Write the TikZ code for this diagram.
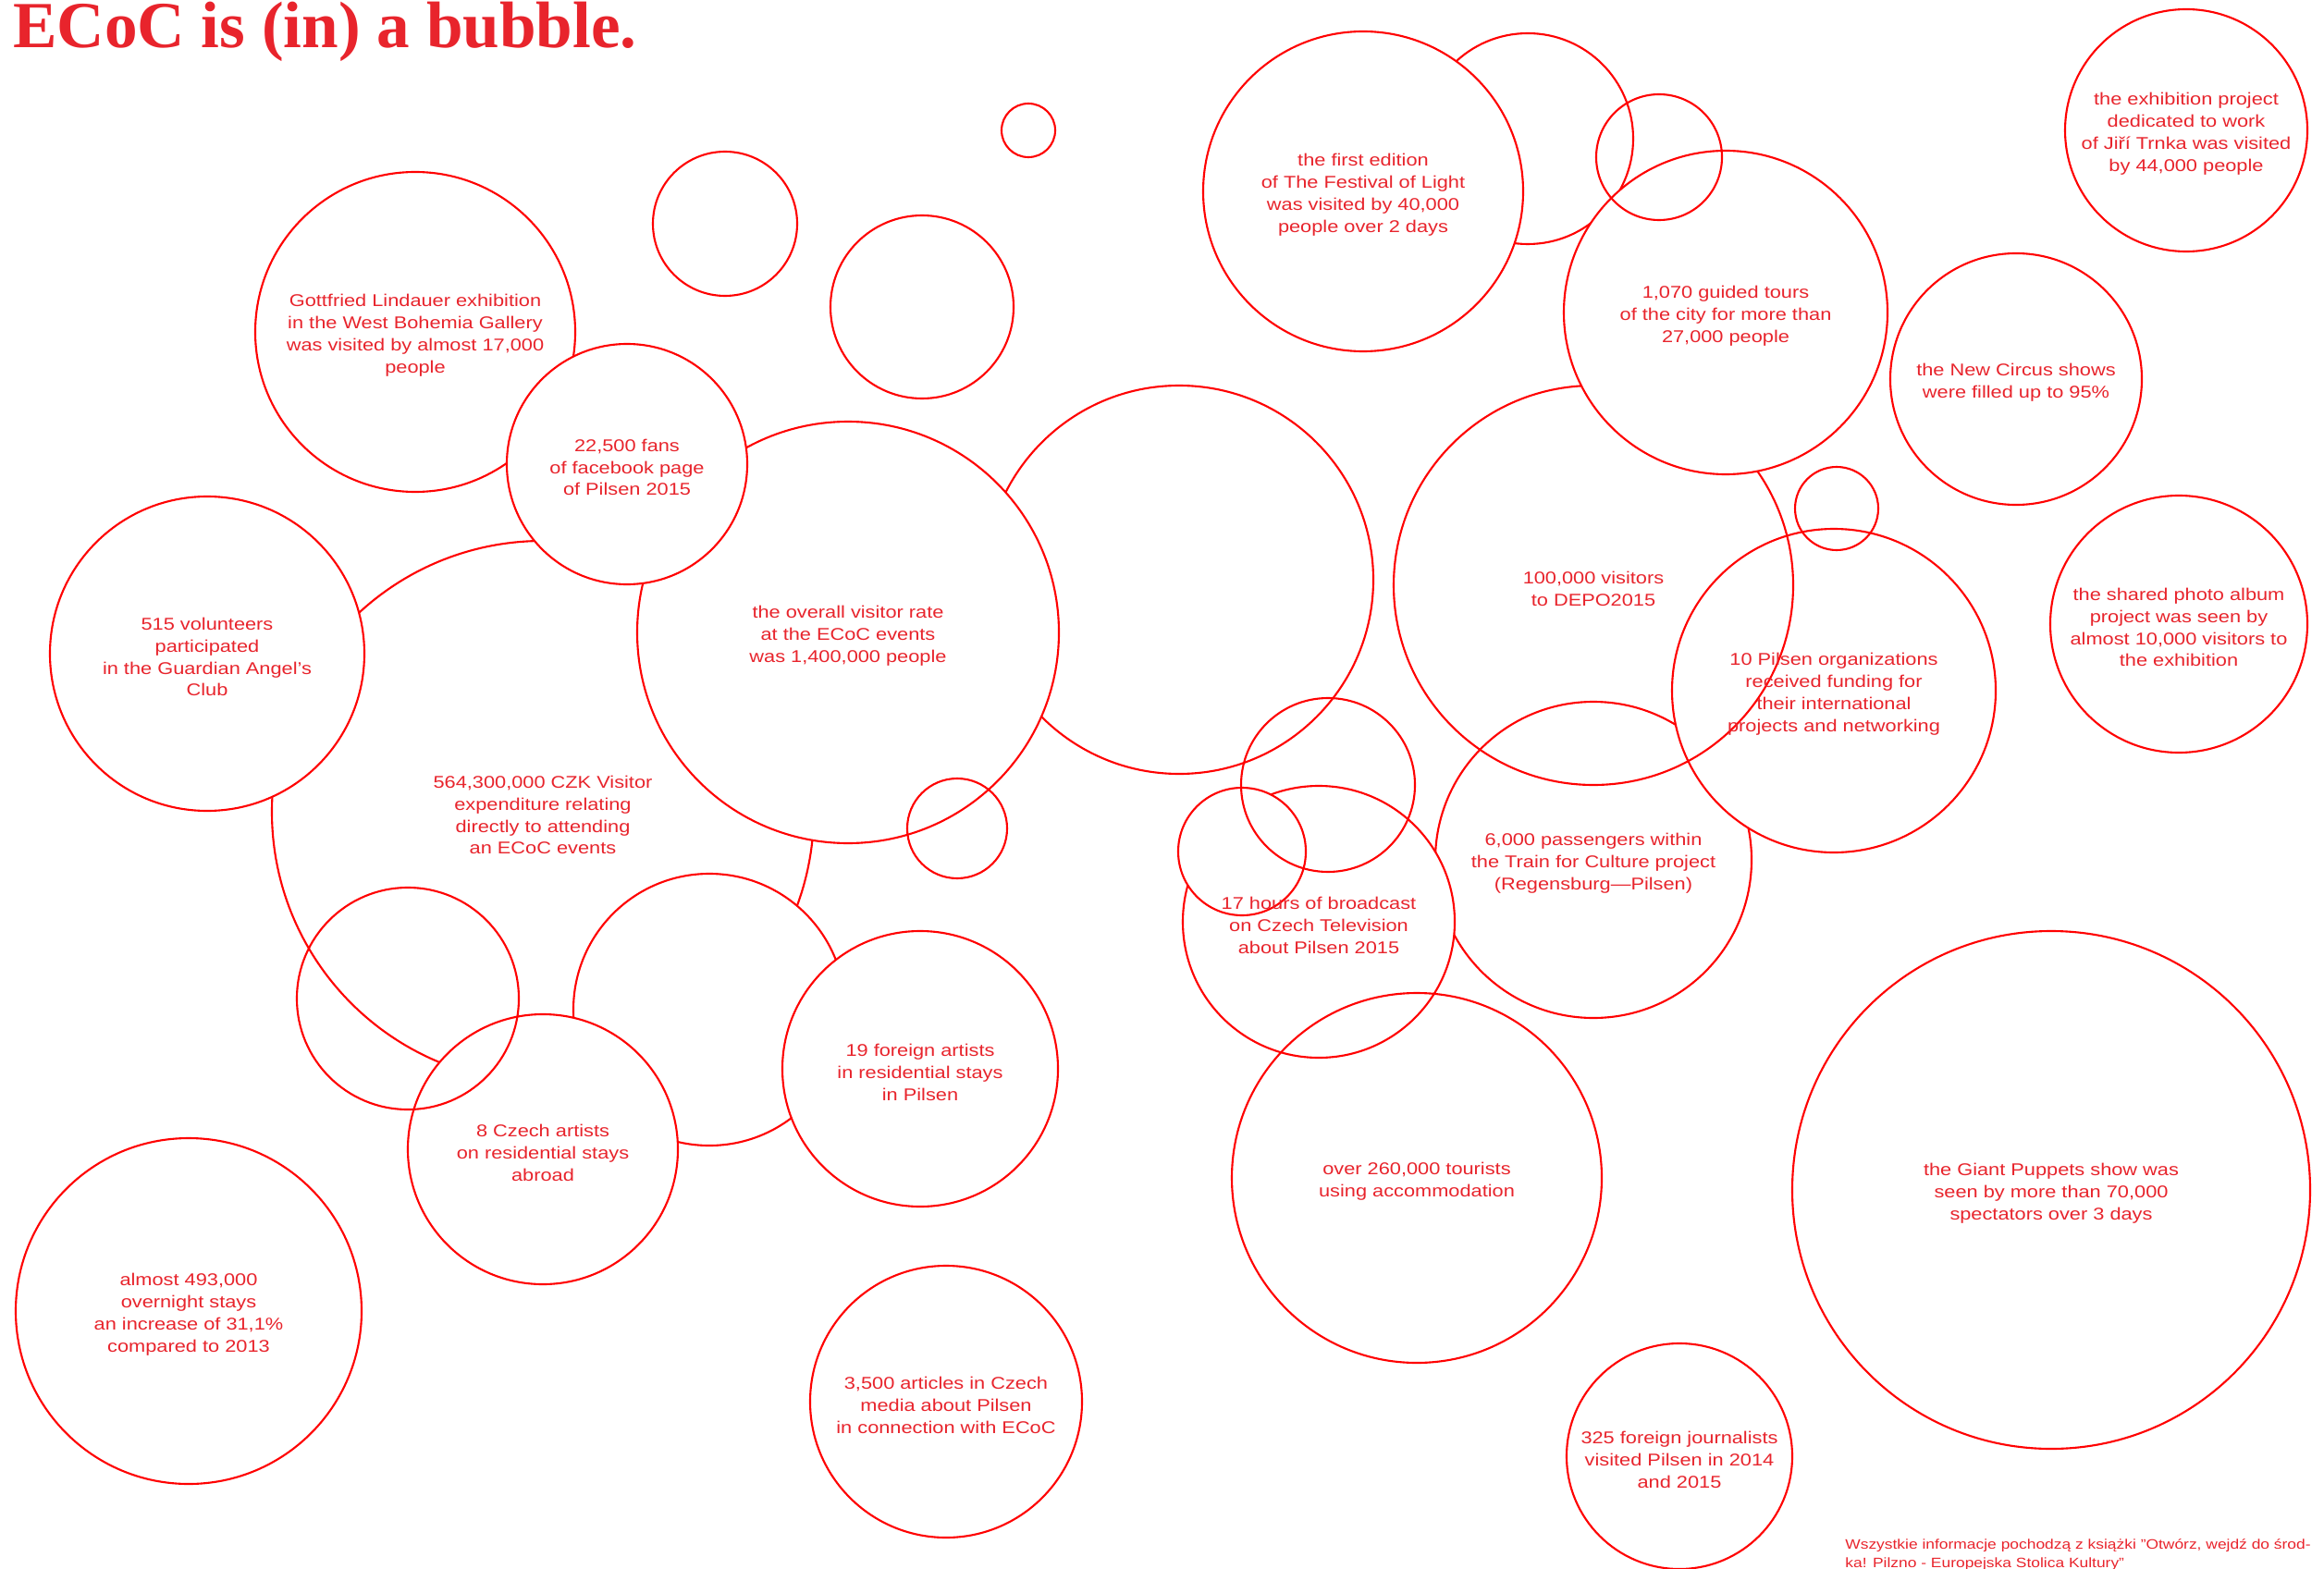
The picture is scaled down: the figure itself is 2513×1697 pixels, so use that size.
\documentclass[tikz,border=0pt]{standalone}
\usepackage{fontspec}
\setmainfont{Liberation Sans}[FakeStretch=1.18]
\newfontfamily\titlefont{Liberation Serif}
\usepackage{tikz}
\definecolor{ecocline}{RGB}{255,0,0}
\definecolor{ecoctext}{RGB}{232,36,44}

\begin{document}
\begin{tikzpicture}[x=0.2mm, y=-0.2mm,
  bubble/.style={circle, draw=ecocline, line width=1.2pt, fill=white, inner sep=0pt, minimum size=#1*0.4mm},
  ring/.style={bubble=#1, fill=none},
  fact/.style={text=ecoctext, align=center, inner sep=0pt, yshift=-0.7mm, font=\fontsize{10.5}{13.6}\selectfont},
  source/.style={text=ecoctext, align=left, inner sep=0pt, font=\fontsize{8.4}{11.6}\selectfont}
]
\useasboundingbox (0,0) rectangle (2513,1697);
\node[bubble=293] (spending) at (587,878) {};
\node[bubble=210] (b4) at (1275,627) {};
\node[bubble=173] (lindauer) at (449,359) {};
\node[bubble=228] (visitors) at (917,684) {};
\node[bubble=130] (fans) at (678,502) {};
\node[bubble=170] (volunteers) at (224,707) {};
\node[bubble=147] (b7) at (767,1092) {};
\node[bubble=146] (czech) at (587,1243) {};
\node[bubble=149] (foreign) at (995,1156) {};
\node[ring=120] (b6) at (441,1080) {};
\node[ring=54] (b5) at (1035,896) {};
\node[bubble=78] (b1) at (784,242) {};
\node[bubble=29] (b2) at (1112,141) {};
\node[bubble=99] (b3) at (997,332) {};
\node[bubble=187] (stays) at (204,1418) {};
\node[bubble=147] (articles) at (1023,1516) {};
\node[bubble=114] (b8) at (1652,150) {};
\node[bubble=173] (festival) at (1474,207) {};
\node[bubble=171] (train) at (1723,930) {};
\node[bubble=175] (funding) at (1983,747) {};
\node[ring=216] (depo) at (1723,633) {};
\node[bubble=175] (tours) at (1866,338) {};
\node[ring=68] (b9) at (1794,170) {};
\node[ring=45] (b10) at (1986,550) {};
\node[bubble=147] (broadcast) at (1426,997) {};
\node[bubble=69] (b12) at (1343,921) {};
\node[ring=94] (b11) at (1436,849) {};
\node[ring=200] (tourists) at (1532,1274) {};
\node[bubble=136] (circus) at (2180,410) {};
\node[bubble=131] (trnka) at (2364,141) {};
\node[bubble=139] (album) at (2356,675) {};
\node[bubble=280] (puppets) at (2218,1287) {};
\node[bubble=122] (journalists) at (1816,1575) {};
\node[fact] (lindauerT) at (lindauer) {Gottfried Lindauer exhibition\\in the West Bohemia Gallery\\was visited by almost 17,000\\people};
\node[fact] (fansT) at (fans) {22,500 fans\\of facebook page\\of Pilsen 2015};
\node[fact] (volunteersT) at (volunteers) {515 volunteers\\participated\\in the Guardian Angel's\\Club};
\node[fact] (spendingT) at (spending) {564,300,000 CZK Visitor\\expenditure relating\\directly to attending\\an ECoC events};
\node[fact] (visitorsT) at (visitors) {the overall visitor rate\\at the ECoC events\\was 1,400,000 people};
\node[fact] (czechT) at (czech) {8 Czech artists\\on residential stays\\abroad};
\node[fact] (foreignT) at (foreign) {19 foreign artists\\in residential stays\\in Pilsen};
\node[fact] (staysT) at (stays) {almost 493,000\\overnight stays\\an increase of 31,1\%\\compared to 2013};
\node[fact] (articlesT) at (articles) {3,500 articles in Czech\\media about Pilsen\\in connection with ECoC};
\node[fact] (festivalT) at (festival) {the first edition\\of The Festival of Light\\was visited by 40,000\\people over 2 days};
\node[fact] (toursT) at (tours) {1,070 guided tours\\of the city for more than\\27,000 people};
\node[fact] (depoT) at (depo) {100,000 visitors\\to DEPO2015};
\node[fact] (fundingT) at (funding) {10 Pilsen organizations\\received funding for\\their international\\projects and networking};
\node[fact] (circusT) at (circus) {the New Circus shows\\were filled up to 95\%};
\node[fact] (trnkaT) at (trnka) {the exhibition project\\dedicated to work\\of Jiří Trnka was visited\\by 44,000 people};
\node[fact] (albumT) at (album) {the shared photo album\\project was seen by\\almost 10,000 visitors to\\the exhibition};
\node[fact] (puppetsT) at (puppets) {the Giant Puppets show was\\seen by more than 70,000\\spectators over 3 days};
\node[fact] (journalistsT) at (journalists) {325 foreign journalists\\visited Pilsen in 2014\\and 2015};
\node[fact] (touristsT) at (tourists) {over 260,000 tourists\\using accommodation};
\node[fact] (trainT) at (train) {6,000 passengers within\\the Train for Culture project\\(Regensburg—Pilsen)};
\node[fact] (broadcastT) at (broadcast) {17 hours of broadcast\\on Czech Television\\about Pilsen 2015};
\node[anchor=base west, text=ecoctext, inner sep=0pt, font=\titlefont\bfseries\fontsize{40.5}{41}\selectfont] (title) at (14,52) {ECoC is (in) a bubble.};
\node[source, anchor=north west] (source) at (1995,1664) {Wszystkie informacje pochodzą z książki ”Otwórz, wejdź do środ-\\ka! Pilzno - Europejska Stolica Kultury”};
\end{tikzpicture}
\end{document}
